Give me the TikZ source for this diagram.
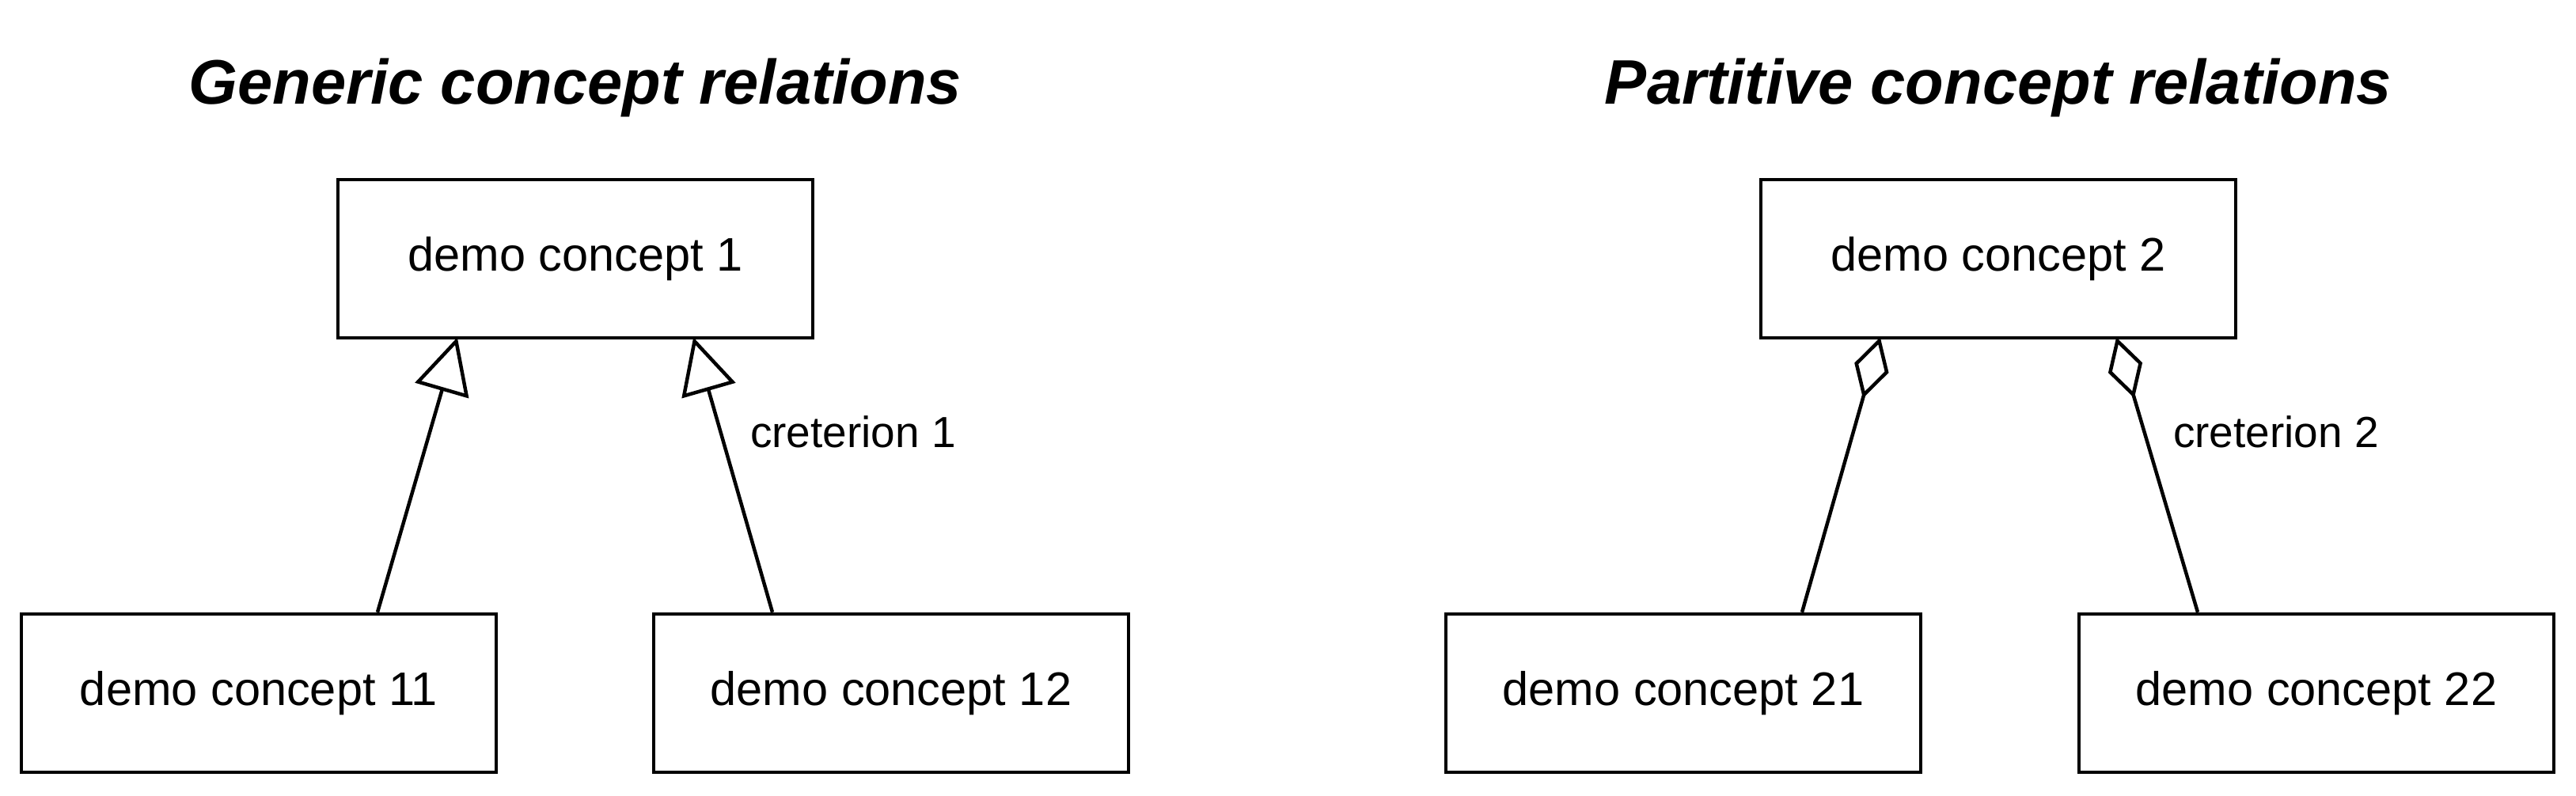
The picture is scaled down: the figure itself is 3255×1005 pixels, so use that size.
\documentclass[tikz,border=0pt]{standalone}
\usepackage{fontspec}
\setmainfont{Liberation Sans}
\usetikzlibrary{arrows.meta,calc}
\begin{document}
\begin{tikzpicture}[x=0.2pt,y=-0.2pt,
  concept/.style={draw=black,line width=0.9pt,fill=white,minimum width=120pt,minimum height=40pt,inner sep=0pt,font=\fontsize{11.9}{14}\selectfont},
  heading/.style={anchor=base,inner sep=0pt,font=\fontsize{15.9}{19}\selectfont\bfseries\itshape},
  crit/.style={anchor=base west,inner sep=0pt,font=\fontsize{11}{13}\selectfont},
  generic/.style={line width=0.9pt,shorten >=-0.6pt,-{Triangle[open,fill=white,length=14pt,width=14pt]}},
  partitive/.style={line width=0.9pt,shorten >=-0.6pt,-{Diamond[open,fill=white,length=16pt,width=9pt]}}]
\useasboundingbox (0,0) rectangle (3255,1005);
% titles
\node[heading] (t1) at (727,131) {Generic concept relations};
\node[heading] (t2) at (2525,131) {Partitive concept relations};
% generic
\node[concept] (b1) at (727,327) {demo concept 1};
\node[concept] (b11) at (327,876) {demo concept 11};
\node[concept] (b12) at (1126,876) {demo concept 12};
\draw[generic] ($(b11.north)+(150,0)$) -- ($(b1.south)+(-150,0)$);
\draw[generic] ($(b12.north)+(-150,0)$) -- ($(b1.south)+(150,0)$);
\node[crit] (c1) at (947,565) {creterion 1};
% partitive
\node[concept] (b2) at (2525,327) {demo concept 2};
\node[concept] (b21) at (2127,876) {demo concept 21};
\node[concept] (b22) at (2927,876) {demo concept 22};
\draw[partitive] ($(b21.north)+(150,0)$) -- ($(b2.south)+(-150,0)$);
\draw[partitive] ($(b22.north)+(-150,0)$) -- ($(b2.south)+(150,0)$);
\node[crit] (c2) at (2745,565) {creterion 2};
\end{tikzpicture}
\end{document}
